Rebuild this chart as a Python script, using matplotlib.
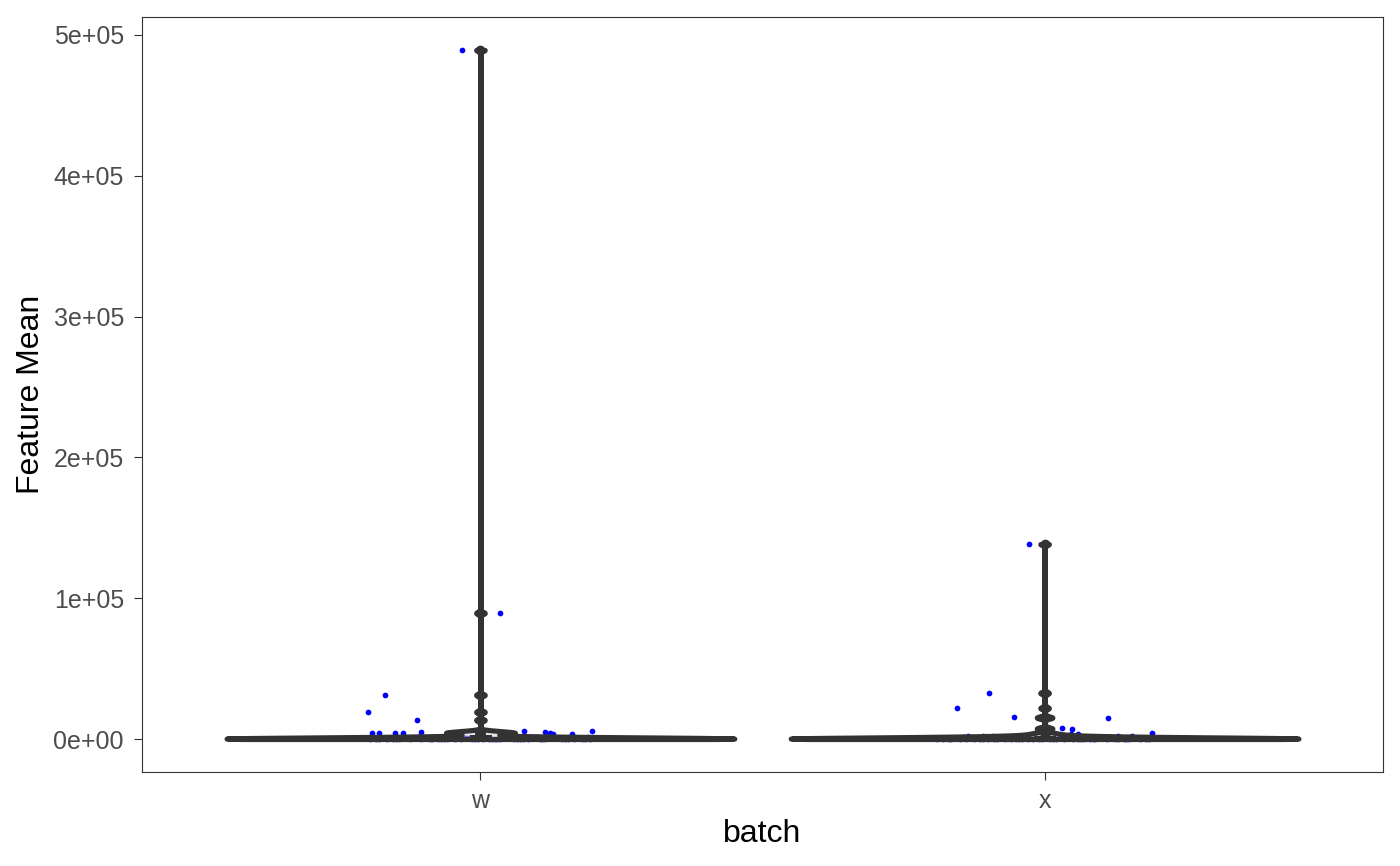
import matplotlib
matplotlib.use("Agg")
import matplotlib.pyplot as plt
import numpy as np
from matplotlib.ticker import FuncFormatter

plt.rcParams["font.family"] = ["Liberation Sans", "DejaVu Sans"]

batches = ["w", "x"]

# feature means per batch: the visible spread-out points ...
w_big = [489400, 89500, 31300, 19200, 13500, 5000, 5700, 5000, 5700, 3500,
         4300, 4300, 4300, 4300, 4300, 3500, 2000, 1500]
w_big_jit = [-0.032, 0.035, -0.170, -0.200, -0.112, -0.106, 0.078, 0.115, 0.197, 0.163,
             -0.193, -0.179, -0.152, -0.138, 0.124, 0.128, 0.045, -0.060]
# ... and the cloud hidden under the violin outline near zero
w_small = [900, 400, 150, 700, 1200, 300, 60, 500, 1000, 250, 800, 100,
           600, 350, 1100, 50, 450, 200, 750, 1300, 30, 650, 900, 120,
           550, 280, 80, 1400, 380, 20, 850, 480,
           40, 220, 90, 310, 10, 170, 430, 70, 260, 130, 360, 25, 190, 510,
           60, 140, 320, 15, 230, 410, 95, 180, 35, 270, 110, 460, 55, 210,
           5, 330, 160, 75]
w_small_jit = [-0.190, -0.170, -0.150, -0.130, -0.110, -0.090, -0.070, -0.050, -0.030, -0.010, 0.010, 0.030,
               0.050, 0.070, 0.090, 0.110, 0.130, 0.150, 0.170, 0.190, -0.180, -0.140,
               -0.100, -0.060, -0.020, 0.020, 0.060, 0.100, 0.140, 0.180, -0.040, 0.080,
               -0.195, -0.185, -0.165, -0.155, -0.145, -0.125, -0.115, -0.105, -0.085, -0.075,
               -0.065, -0.045, -0.035, -0.025, -0.005, 0.005, 0.015, 0.025, 0.035, 0.045,
               0.065, 0.075, 0.085, 0.105, 0.115, 0.125, 0.145, 0.155, 0.165, 0.185,
               0.195, -0.015]

x_big = [138500, 32700, 22000, 15600, 14900, 7800, 7100, 3600, 3600, 4300,
         2100, 2100, 2100, 2100, 2100, 2100]
x_big_jit = [-0.027, -0.099, -0.156, -0.055, 0.113, 0.030, 0.048, 0.046, 0.059, 0.191,
             -0.135, -0.110, -0.091, -0.046, 0.130, 0.155]
x_small = [900, 400, 150, 700, 1200, 300, 60, 500, 1000, 250, 800, 100,
           600, 350, 1100, 50, 450, 200, 750, 1300, 30, 650, 900, 120,
           550, 280, 80, 1400, 380, 20, 850, 480,
           120, 30, 260, 80, 450, 15, 190, 340, 60, 220, 5, 150, 400, 45,
           280, 100, 20, 310, 170, 70, 490, 240, 10, 130, 360, 55, 200, 90,
           420, 35, 160, 290]
x_small_jit = w_small_jit[::-1]

data = [np.array(w_big + w_small, float), np.array(x_big + x_small, float)]
jitters = [np.array(w_big_jit + w_small_jit), np.array(x_big_jit + x_small_jit)]

DARK = "#333333"
BW = 800.0  # kernel bandwidth in data units

fig = plt.figure(figsize=(14, 8.66), dpi=100)
ax = fig.add_axes([0.1014, 0.1085, 0.8865, 0.8719])

pos = np.arange(1, len(batches) + 1)

# jittered points underneath the violins
for p, vals, jit in zip(pos, data, jitters):
    ax.scatter(p + jit, vals, s=17, color="#0000FF", linewidths=0, zorder=1)

# violins, each scaled to the same max width
for p, vals in zip(pos, data):
    parts = ax.violinplot([vals], positions=[p], widths=0.9, showextrema=False,
                          points=8000, bw_method=BW / np.std(vals, ddof=1))
    for body in parts["bodies"]:
        body.set_alpha(None)
        body.set_facecolor((0.82, 0.82, 0.85, 0.55))
        body.set_edgecolor(DARK)
        body.set_linewidth(3.7)
        body.set_joinstyle("round")
        body.set_capstyle("round")
        body.set_zorder(2)

# thin boxplot with outliers
line_kw = dict(color=DARK, linewidth=3.6, solid_capstyle="round")
ax.boxplot(data, positions=pos, widths=0.03, showcaps=False, patch_artist=True,
           boxprops=dict(facecolor="white", edgecolor=DARK, linewidth=3.6),
           whiskerprops=line_kw, medianprops=line_kw,
           flierprops=dict(marker="o", markersize=6, markerfacecolor=DARK,
                           markeredgecolor=DARK), zorder=3)

ax.set_xlim(0.4, 2.6)
ax.set_ylim(-23440, 512800)
ax.set_xticks(pos)
ax.set_xticklabels(batches)
ax.set_yticks([0, 100000, 200000, 300000, 400000, 500000])
ax.yaxis.set_major_formatter(FuncFormatter(lambda v, _: f"{v:.0e}"))

ax.tick_params(axis="both", length=5.5, width=0.8, color=DARK, labelsize=18,
               labelcolor="#4D4D4D")
ax.tick_params(axis="y", pad=7.5)
ax.tick_params(axis="x", pad=6.5)
for sp in ax.spines.values():
    sp.set_color(DARK)
    sp.set_linewidth(0.8)

ax.set_xlabel("batch", fontsize=23, va="baseline")
ax.xaxis.set_label_coords(0.5, -0.0927)
ax.set_ylabel("Feature Mean", fontsize=23, va="baseline")
ax.yaxis.set_label_coords(-0.083, 0.5)

fig.savefig("out.png", dpi=100, facecolor="white")
